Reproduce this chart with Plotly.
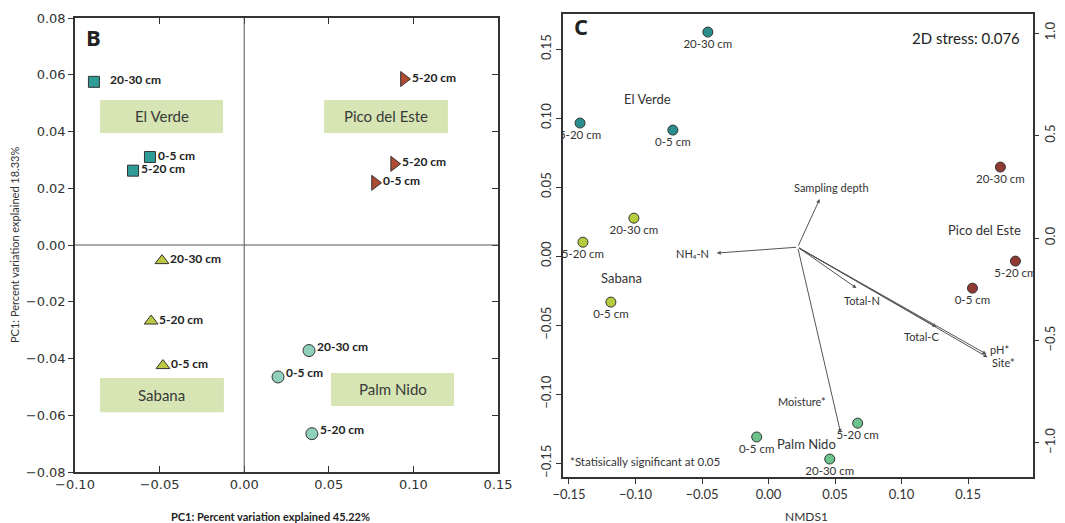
import plotly.graph_objects as go

# ---------------- Panel B data (PCA) ----------------
b_groups = ["El Verde", "Pico del Este", "Sabana", "Palm Nido"]
b_x = {
    "El Verde": [-0.0888, -0.0557, -0.0657],
    "Pico del Este": [0.0944, 0.0886, 0.0773],
    "Sabana": [-0.0486, -0.0550, -0.0480],
    "Palm Nido": [0.0383, 0.0200, 0.0400],
}
b_y = {
    "El Verde": [0.0575, 0.0310, 0.0262],
    "Pico del Este": [0.0585, 0.0286, 0.0219],
    "Sabana": [-0.0055, -0.0268, -0.0425],
    "Palm Nido": [-0.0372, -0.0465, -0.0665],
}
b_depth = {
    "El Verde": ["20-30 cm", "0-5 cm", "5-20 cm"],
    "Pico del Este": ["5-20 cm", "5-20 cm", "0-5 cm"],
    "Sabana": ["20-30 cm", "5-20 cm", "0-5 cm"],
    "Palm Nido": ["20-30 cm", "0-5 cm", "5-20 cm"],
}
# site label boxes: x0, x1, y0, y1
b_box_x0 = [-0.0852, 0.0472, -0.0852, 0.0513]
b_box_x1 = [-0.0125, 0.1204, -0.0120, 0.1240]
b_box_y0 = [0.0395, 0.0395, -0.0589, -0.0567]
b_box_y1 = [0.0511, 0.0511, -0.0469, -0.0451]

# ---------------- Panel C data (NMDS) ----------------
c_groups = ["El Verde", "Sabana", "Pico del Este", "Palm Nido"]
c_x = {
    "El Verde": [-0.0456, -0.1417, -0.0719],
    "Sabana": [-0.1012, -0.1395, -0.1185],
    "Pico del Este": [0.1743, 0.1856, 0.1533],
    "Palm Nido": [0.0670, -0.0089, 0.0460],
}
c_y = {
    "El Verde": [0.1623, 0.0964, 0.0913],
    "Sabana": [0.0275, 0.0101, -0.0333],
    "Pico del Este": [0.0645, -0.0036, -0.0232],
    "Palm Nido": [-0.1210, -0.1310, -0.1470],
}
c_depth = {
    "El Verde": ["20-30 cm", "5-20 cm", "0-5 cm"],
    "Sabana": ["20-30 cm", "5-20 cm", "0-5 cm"],
    "Pico del Este": ["20-30 cm", "5-20 cm", "0-5 cm"],
    "Palm Nido": ["5-20 cm", "0-5 cm", "20-30 cm"],
}
c_site_label_x = [-0.0907, -0.1102, 0.1623, 0.0287]
c_site_label_y = [0.1138, -0.0159, 0.0188, -0.1362]

# environmental vectors (origin + tips)
vec_origin = (0.0219, 0.0065)
vec_names = ["Sampling depth", "NH₄-N", "Total-N", "Total-C", "pH*", "Site*", "Moisture*"]
vec_x = [0.0384, -0.0389, 0.0662, 0.1263, 0.1638, 0.1646, 0.0542]
vec_y = [0.0413, 0.0022, -0.0232, -0.0514, -0.0710, -0.0732, -0.1280]

# ---------------- styles ----------------
b_colors = {"El Verde": "#2f9c98", "Pico del Este": "#b04a32",
            "Sabana": "#bcc843", "Palm Nido": "#8fd0bc"}
b_symbols = {"El Verde": "square", "Pico del Este": "triangle-right",
             "Sabana": "triangle-up", "Palm Nido": "circle"}
b_sizes = {"El Verde": 11, "Pico del Este": 13, "Sabana": 12, "Palm Nido": 12}
c_colors = {"El Verde": "#2a8e8c", "Sabana": "#b6cc3c",
            "Pico del Este": "#8e3a33", "Palm Nido": "#6cc28c"}

W, H = 1065, 523
fig = go.Figure()

LBL_FONT = "Lato, Open Sans, sans-serif"

# Panel B traces
annots = []
for g in b_groups:
    fig.add_trace(go.Scatter(
        x=b_x[g], y=b_y[g], mode="markers", xaxis="x", yaxis="y",
        marker=dict(symbol=b_symbols[g], size=b_sizes[g], color=b_colors[g],
                    line=dict(color="#333333", width=1)),
        showlegend=False, hoverinfo="skip"))
    for i, (xx, yy, t) in enumerate(zip(b_x[g], b_y[g], b_depth[g])):
        shift = 6
        if g == "El Verde" and i == 0:
            shift = 14
        annots.append(dict(x=xx, y=yy, xref="x", yref="y", text=t,
                           showarrow=False, xanchor="left", xshift=shift,
                           yshift=2 if g != "Palm Nido" else 4,
                           font=dict(family=LBL_FONT, size=12, color="#222222", weight="bold")))

shapes = []
for g, x0, x1, y0, y1 in zip(b_groups, b_box_x0, b_box_x1, b_box_y0, b_box_y1):
    shapes.append(dict(type="rect", xref="x", yref="y", x0=x0, x1=x1, y0=y0, y1=y1,
                       fillcolor="#d6e5b3", line=dict(width=0), layer="below"))
    annots.append(dict(x=(x0 + x1) / 2, y=(y0 + y1) / 2, xref="x", yref="y", text=g,
                       showarrow=False, font=dict(family=LBL_FONT, size=15, color="#3a3a3a")))

# zero lines for panel B
shapes.append(dict(type="line", xref="x", yref="y domain", x0=0, x1=0, y0=0, y1=1,
                   line=dict(color="#555555", width=1)))
shapes.append(dict(type="line", xref="x domain", yref="y", x0=0, x1=1, y0=0, y1=0,
                   line=dict(color="#555555", width=1)))

# invisible traces so the secondary axes are drawn
fig.add_trace(go.Scatter(x=[None], y=[None], xaxis="x", yaxis="y3", mode="markers",
                         showlegend=False, hoverinfo="skip"))
fig.add_trace(go.Scatter(x=[None], y=[None], xaxis="x2", yaxis="y4", mode="markers",
                         showlegend=False, hoverinfo="skip"))

# Panel C vectors
for n, tx, ty in zip(vec_names, vec_x, vec_y):
    annots.append(dict(x=tx, y=ty, ax=vec_origin[0], ay=vec_origin[1],
                       xref="x2", yref="y2", axref="x2", ayref="y2", text="",
                       showarrow=True, arrowhead=2, arrowsize=0.8, arrowwidth=1,
                       arrowcolor="#555555"))

vec_lbl_dx = [0.0090, -0.0040, 0.0040, -0.0110, 0.0095, 0.0120, -0.0290]
vec_lbl_dy = [0.0085, 0.0000, -0.0090, -0.0070, 0.0032, -0.0042, 0.0230]
vec_anchor = ["center", "right", "center", "center", "center", "center", "center"]
for n, tx, ty, dx, dy, an in zip(vec_names, vec_x, vec_y, vec_lbl_dx, vec_lbl_dy, vec_anchor):
    annots.append(dict(x=tx + dx, y=ty + dy, xref="x2", yref="y2", text=n,
                       showarrow=False, xanchor=an,
                       font=dict(family=LBL_FONT, size=11, color="#333333")))

for g in c_groups:
    fig.add_trace(go.Scatter(
        x=c_x[g], y=c_y[g], mode="markers+text", xaxis="x2", yaxis="y2",
        text=c_depth[g], textposition="bottom center",
        textfont=dict(family=LBL_FONT, size=11.5, color="#333333"),
        marker=dict(symbol="circle", size=10, color=c_colors[g],
                    line=dict(color="#333333", width=1)),
        showlegend=False, hoverinfo="skip"))

for g, lx, ly in zip(c_groups, c_site_label_x, c_site_label_y):
    annots.append(dict(x=lx, y=ly, xref="x2", yref="y2", text=g, showarrow=False,
                       font=dict(family=LBL_FONT, size=13, color="#333333")))

# Panel titles and texts
def ptxt(px, py, text, font, xanchor="center", **kw):
    return dict(x=px / W, y=1 - py / H, xref="paper", yref="paper", text=text,
                showarrow=False, xanchor=xanchor, yanchor="middle", font=font, **kw)

annots += [
    ptxt(84, 37, "<b>B</b>", dict(family="Open Sans, sans-serif", size=22, color="#222222"), "left"),
    ptxt(572, 26, "<b>C</b>", dict(family="Open Sans, sans-serif", size=22, color="#222222"), "left"),
    ptxt(1022, 38, "2D stress: 0.076", dict(family=LBL_FONT, size=15, color="#222222"), "right"),
    ptxt(568, 461, "*Statisically significant at 0.05", dict(family=LBL_FONT, size=11.5, color="#333333"), "left"),
    ptxt(270, 516, "PC1: Percent variation explained 45.22%",
         dict(family=LBL_FONT, size=11, color="#222222", weight="bold")),
    ptxt(14, 245, "PC1: Percent variation explained 18.33%",
         dict(family=LBL_FONT, size=11, color="#333333"), textangle=-90),
    ptxt(806, 516, "NMDS1", dict(family=LBL_FONT, size=12, color="#333333")),
]

AX_COLOR = "#333333"
tickfont_b = dict(family="DejaVu Sans, sans-serif", size=13, color="#333333")
tickfont_c = dict(family=LBL_FONT, size=13, color="#333333")

fig.update_layout(
    width=W, height=H, autosize=False, margin=dict(l=0, r=0, t=0, b=0, pad=0),
    paper_bgcolor="white", plot_bgcolor="white",
    shapes=shapes, annotations=annots,
    xaxis=dict(domain=[75 / W, 498 / W], range=[-0.10, 0.15],
               tickvals=[-0.10, -0.05, 0.0, 0.05, 0.10, 0.15], tickformat=".2f",
               ticks="inside", ticklen=6, tickcolor=AX_COLOR, mirror="ticks",
               showline=True, linecolor=AX_COLOR, linewidth=1.5, showgrid=False,
               zeroline=False, tickfont=tickfont_b, anchor="y", automargin=False),
    yaxis=dict(domain=[1 - 472 / H, 1 - 18 / H], range=[-0.08, 0.08],
               tickvals=[-0.08, -0.06, -0.04, -0.02, 0.0, 0.02, 0.04, 0.06, 0.08],
               tickformat=".2f", ticks="outside", ticklen=5, tickcolor=AX_COLOR,
               showline=True, linecolor=AX_COLOR, linewidth=1.5, mirror=True,
               showgrid=False, zeroline=False, tickfont=tickfont_b, anchor="x",
               automargin=False),
    yaxis3=dict(overlaying="y", side="right", anchor="x", range=[-0.08, 0.08],
                tickvals=[-0.08, -0.06, -0.04, -0.02, 0.0, 0.02, 0.04, 0.06, 0.08],
                ticks="inside", ticklen=6, tickcolor=AX_COLOR, showticklabels=False,
                showgrid=False, zeroline=False, showline=False, automargin=False),
    xaxis2=dict(domain=[563 / W, 1033 / W], range=[-0.1545, 0.1988],
                tickvals=[-0.15, -0.10, -0.05, 0.0, 0.05, 0.10, 0.15], tickformat=".2f",
                ticks="outside", ticklen=5, tickcolor=AX_COLOR,
                showline=True, linecolor=AX_COLOR, linewidth=1.5, mirror=True,
                showgrid=False, zeroline=False, tickfont=tickfont_c, anchor="y2",
                automargin=False),
    yaxis2=dict(domain=[1 - 477 / H, 1 - 14 / H], range=[-0.160, 0.1754],
                tickvals=[-0.15, -0.10, -0.05, 0.0, 0.05, 0.10, 0.15], tickformat=".2f",
                tickangle=-90, ticks="outside", ticklen=5, tickcolor=AX_COLOR,
                showline=True, linecolor=AX_COLOR, linewidth=1.5, mirror=True,
                showgrid=False, zeroline=False, tickfont=tickfont_c, anchor="x2",
                automargin=False),
    yaxis4=dict(overlaying="y2", side="right", anchor="x2", range=[-1.166, 1.093],
                tickvals=[-1.0, -0.5, 0.0, 0.5, 1.0], tickformat=".1f", tickangle=-90,
                ticks="outside", ticklen=5, tickcolor=AX_COLOR,
                showgrid=False, zeroline=False, showline=False, tickfont=tickfont_c,
                automargin=False),
)

fig.write_html("out.html")
